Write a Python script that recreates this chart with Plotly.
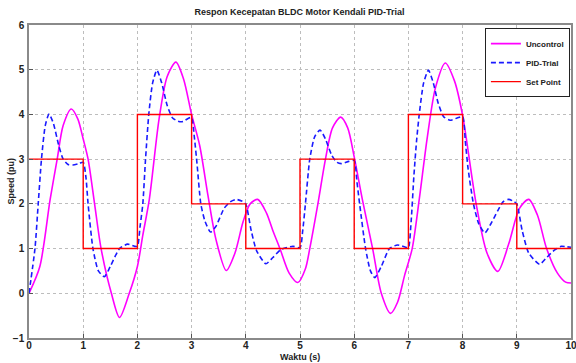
import plotly.graph_objects as go

# Set point
sp_t = [0, 1, 2, 3, 4, 5, 6, 7, 8, 9, 10]
sp_v = [3, 1, 4, 2, 1, 3, 1, 4, 2, 1, 1]

# Uncontrol response
unc_t = [0, 0.2, 0.39, 0.52, 0.63, 0.78, 0.9, 1.0, 1.09, 1.21, 1.33, 1.52, 1.67, 1.85, 2.0, 2.1, 2.22,
         2.4, 2.55, 2.71, 2.85, 3.0, 3.15, 3.3, 3.45, 3.64, 3.8, 3.95, 4.08, 4.22, 4.38, 4.5, 4.63,
         4.8, 4.96, 5.1, 5.18, 5.33, 5.47, 5.6, 5.75, 5.88, 6.0, 6.15, 6.34, 6.5, 6.67, 6.8, 6.93,
         7.07, 7.2, 7.35, 7.5, 7.68, 7.85, 8.0, 8.25, 8.45, 8.65, 8.85, 9.05, 9.22, 9.38, 9.55,
         9.75, 9.9, 10]
unc_v = [0, 0.6, 2.1, 3.0, 3.75, 4.12, 3.9, 3.45, 3.0, 2.0, 1.0, 0.0, -0.54, 0.0, 0.6, 1.3, 2.1,
         3.9, 4.85, 5.17, 4.8, 4.0, 3.3, 2.2, 1.2, 0.51, 0.9, 1.6, 2.0, 2.1, 1.8, 1.4, 1.0,
         0.45, 0.24, 0.55, 1.0, 2.0, 3.0, 3.7, 3.94, 3.7, 3.05, 2.1, 1.0, 0.0, -0.45, -0.2, 0.4,
         1.0, 2.1, 3.5, 4.6, 5.15, 4.75, 3.98, 2.0, 0.9, 0.49, 1.1, 1.9, 2.1, 1.75, 1.0,
         0.45, 0.25, 0.23]

# PID-Trial response
pid_t = [0, 0.11, 0.17, 0.23, 0.3, 0.37, 0.45, 0.55, 0.63, 0.72, 0.81, 0.92, 1.0, 1.05, 1.09, 1.18,
         1.28, 1.39, 1.5, 1.67, 1.82, 1.95, 2.0, 2.05, 2.1, 2.15, 2.21, 2.28, 2.36, 2.45, 2.55,
         2.65, 2.75, 2.84, 2.95, 3.0, 3.05, 3.1, 3.17, 3.25, 3.35, 3.45, 3.6, 3.72, 3.82, 3.95,
         4.0, 4.1, 4.2, 4.37, 4.5, 4.65, 4.87, 5.0, 5.05, 5.1, 5.18, 5.27, 5.37, 5.47, 5.58, 5.68,
         5.76, 5.9, 6.0, 6.05, 6.1, 6.21, 6.3, 6.38, 6.5, 6.65, 6.8, 6.95, 7.0, 7.05, 7.1, 7.15,
         7.2, 7.28, 7.37, 7.46, 7.55, 7.65, 7.77, 7.9, 8.0, 8.05, 8.1, 8.2, 8.3, 8.41, 8.52, 8.65,
         8.75, 8.85, 8.95, 9.0, 9.1, 9.22, 9.42, 9.55, 9.7, 9.82, 9.92, 10]
pid_v = [0, 1.0, 2.0, 3.0, 3.75, 4.01, 3.8, 3.3, 3.0, 2.88, 2.87, 2.9, 2.93, 2.6, 2.0, 1.0,
         0.5, 0.37, 0.6, 1.0, 1.1, 1.05, 1.05, 1.5, 2.0, 3.0, 4.0, 4.7, 4.99, 4.7, 4.2,
         3.92, 3.85, 3.84, 3.92, 3.93, 3.5, 2.9, 2.0, 1.6, 1.37, 1.5, 1.9, 2.05, 2.1, 2.05,
         2.0, 1.4, 0.95, 0.66, 0.8, 0.98, 1.05, 1.02, 1.4, 2.0, 3.0, 3.5, 3.65, 3.45, 3.1, 2.93,
         2.9, 2.95, 2.97, 2.5, 2.0, 1.0, 0.5, 0.35, 0.6, 1.0, 1.08, 1.03, 1.02, 1.6, 2.6, 3.4,
         4.0, 4.7, 4.99, 4.7, 4.25, 3.95, 3.87, 3.92, 3.95, 3.4, 2.8, 2.0, 1.55, 1.35, 1.55, 1.85,
         2.05, 2.1, 2.05, 2.0, 1.4, 0.9, 0.65, 0.8, 0.97, 1.05, 1.04, 1.03]

x_ticks = [0, 1, 2, 3, 4, 5, 6, 7, 8, 9, 10]
y_ticks = [-1, 0, 1, 2, 3, 4, 5, 6]

FONT = "Liberation Sans"
TXT = "#222"

fig = go.Figure()
fig.add_trace(go.Scatter(x=unc_t, y=unc_v, mode="lines", name="Uncontrol",
                         line=dict(color="#FF00FF", width=1.6, shape="spline", smoothing=0.8)))
fig.add_trace(go.Scatter(x=pid_t, y=pid_v, mode="lines", name="PID-Trial",
                         line=dict(color="#1a1aff", width=1.6, dash="5px,3px", shape="spline", smoothing=0.6)))
fig.add_trace(go.Scatter(x=sp_t, y=sp_v, mode="lines", name="Set Point",
                         line=dict(color="#FF0000", width=1.4, shape="hv")))

axis_common = dict(showgrid=True, gridcolor="#bdbdbd", griddash="dot", gridwidth=1,
                   showline=True, linecolor="#8a8a8a", linewidth=1.5, mirror=True,
                   ticks="inside", ticklen=4, tickcolor="#555", zeroline=False,
                   automargin=False, ticklabeloverflow="allow",
                   tickfont=dict(family=FONT, size=10, color=TXT, weight="bold"))

fig.update_layout(
    width=576, height=363,
    margin=dict(l=29, r=5, t=25, b=25, autoexpand=False),
    paper_bgcolor="white", plot_bgcolor="white",
    title=dict(text="Respon Kecepatan BLDC Motor Kendali PID-Trial", x=0.52, xanchor="center",
               y=0.967, yanchor="middle",
               font=dict(family=FONT, size=9, color=TXT, weight="bold")),
    xaxis=dict(range=[0, 10], tickvals=x_ticks, ticklabelstandoff=-3, **axis_common),
    yaxis=dict(range=[-1, 6], tickvals=y_ticks, ticklabelstandoff=1, **axis_common),
    legend=dict(x=0.998, xanchor="right", y=0.99, yanchor="top", bgcolor="white",
                bordercolor="#222", borderwidth=1, itemwidth=30, tracegroupgap=0,
                font=dict(family=FONT, size=8, color=TXT, weight="bold")),
    showlegend=True,
    annotations=[
        dict(text="Waktu (s)", xref="paper", yref="paper", x=0.5, y=0, xanchor="center",
             yanchor="middle", yshift=-19, showarrow=False,
             font=dict(family=FONT, size=9, color=TXT, weight="bold")),
        dict(text="Speed (pu)", xref="paper", yref="paper", x=0, y=0.5, xanchor="center",
             yanchor="middle", xshift=-19, textangle=-90, showarrow=False,
             font=dict(family=FONT, size=9, color=TXT, weight="bold")),
    ],
)

fig.write_html("out.html", config={"displayModeBar": False},
               post_script="document.body.style.margin='0';document.body.style.overflow='hidden';")
